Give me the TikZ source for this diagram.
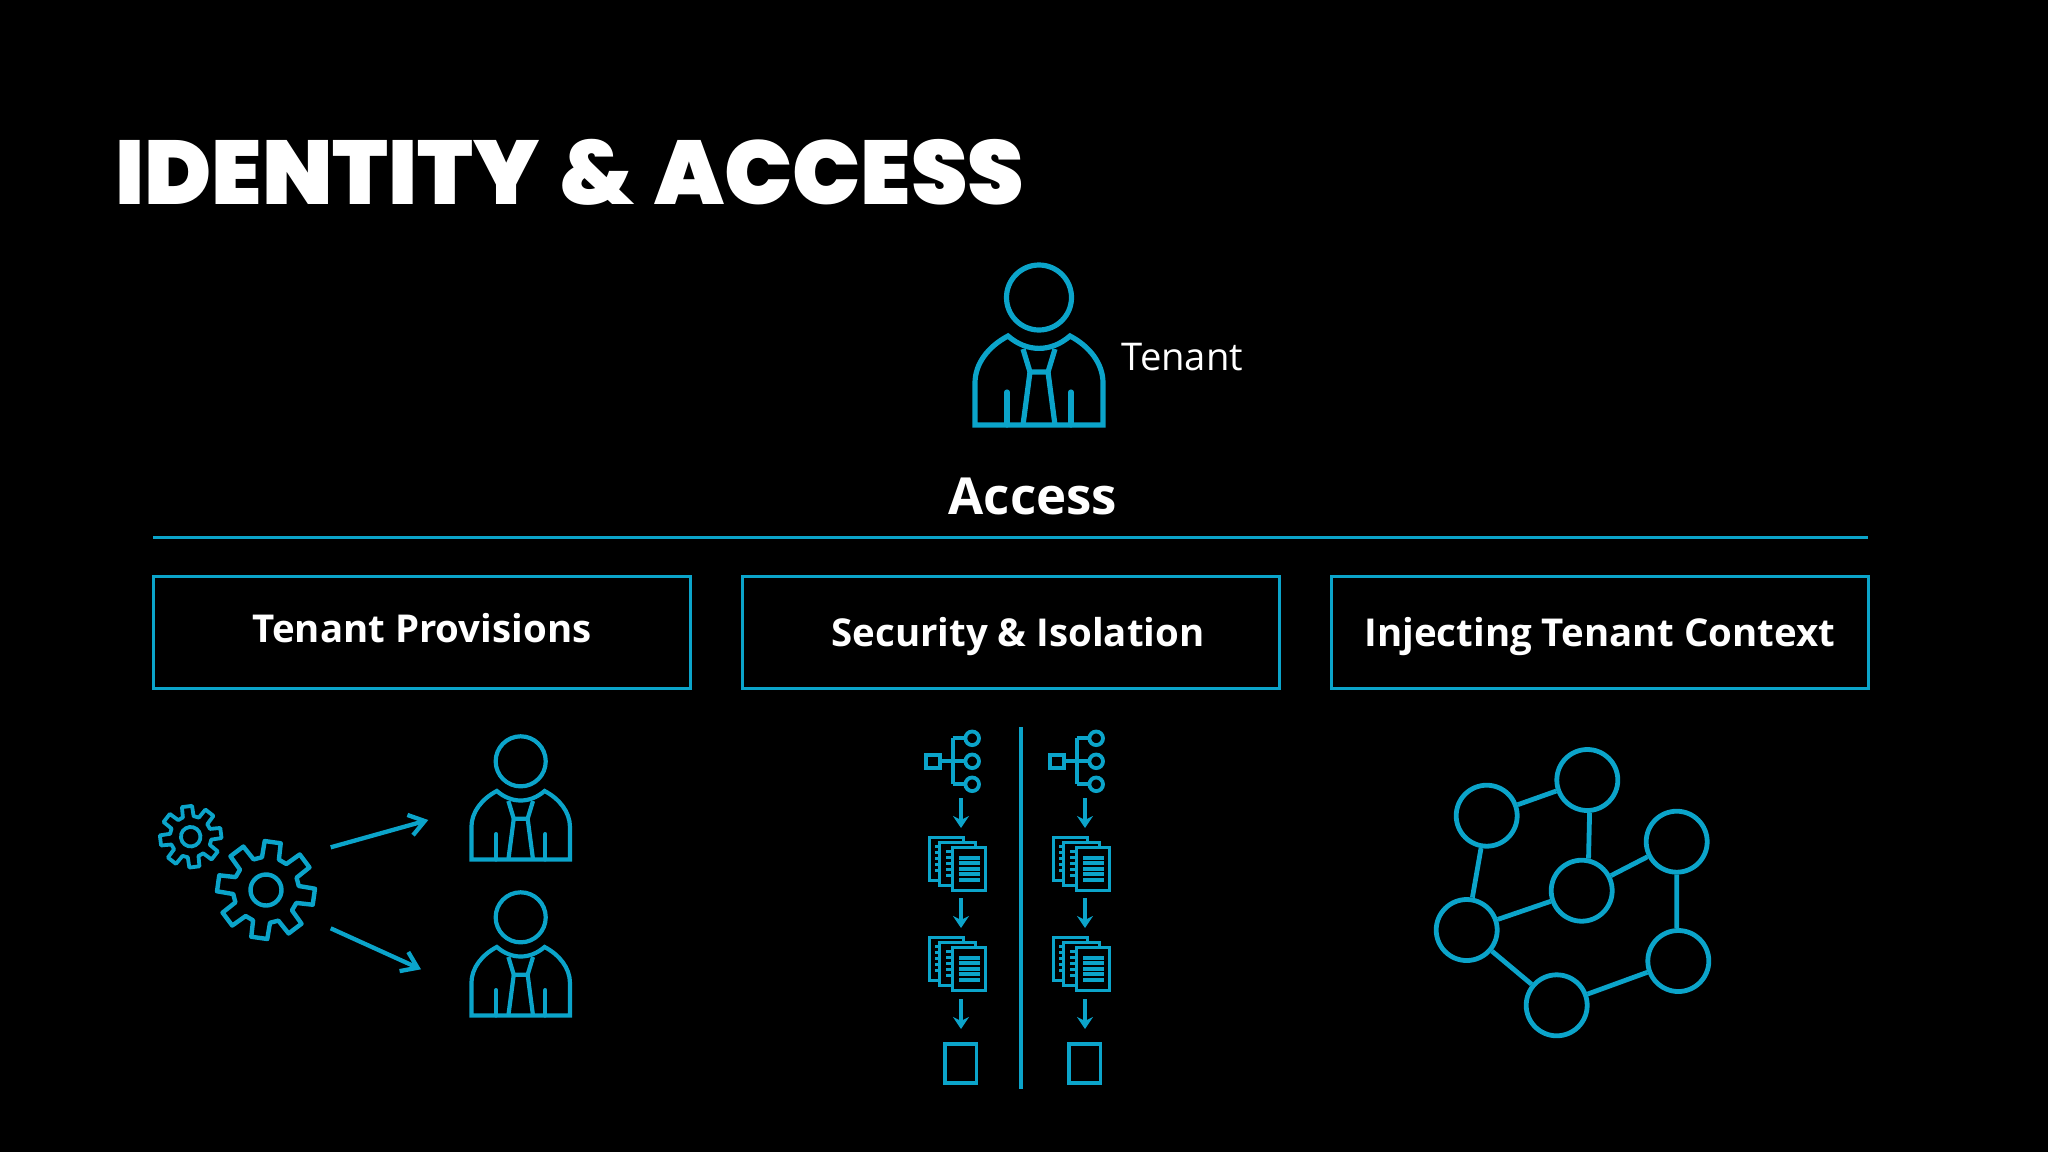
\documentclass[tikz,border=0pt]{standalone}
\usepackage{fontspec}
\usetikzlibrary{arrows.meta,positioning}
\setmainfont{Open Sans}
\newfontfamily\titlefont[WordSpace=1.3]{Poppins Black}
\definecolor{tealine}{HTML}{0BA4CA}

\tikzset{
person/.pic={
  \draw (0,-127.5) circle (32.5);
  \draw (-64,0) -- (-64,-42) .. controls (-64,-62) and (-50,-79) .. (-31,-89)
    .. controls (-12,-72.5) and (12,-72.5) .. (31,-89)
    .. controls (50,-79) and (64,-62) .. (64,-42) -- (64,0) -- cycle;
  \draw (-16,-76) -- (-9,-53) -- (9,-53) -- (16,-76);
  \draw (-9,-53) -- (-16,0) (9,-53) -- (16,0);
  \draw[line cap=round] (-32,-33) -- (-32,0) (32,-33) -- (32,0);
},
cog/.pic={
  \draw[line join=round] (-15:33)
    \foreach \a in {0,45,...,315} { -- (\a-15:33) -- (\a-9.5:49) -- (\a+9.5:49) -- (\a+15:33) } -- cycle;
  \draw (0,0) circle (15.5);
},
tree/.pic={
  \draw (-6.5,-6.5) rectangle (7,7);
  \draw (7,0) -- (32,0) (20,-23) -- (20,23) (20,-23) -- (32,-23) (20,23) -- (32,23);
  \foreach \y in {-23,0,23} \draw (39.5,\y) circle (6.8);
},
docs/.pic={
  \draw[fill=black] (0,0) rectangle (34,43);
  \foreach \y in {9,15,21,27,33} \draw (6,\y) -- (10,\y);
  \draw[fill=black] (10,5) rectangle (46,48);
  \foreach \y in {14,20,26,32,38} \draw (17,\y) -- (23,\y);
  \draw[fill=black] (23.5,10) rectangle (56.5,53);
  \foreach \y in {20.5,26,31.5,37,42.5} \draw[line width=4pt] (30,\y) -- (51,\y);
},
}

\begin{document}
\begin{tikzpicture}[x=1pt,y=-1pt,line width=3.2pt,draw=tealine,
labelbox/.style={draw=tealine,line width=3pt,rectangle},
boxtext/.style={anchor=base,text=white,font=\fontsize{38.4}{46}\selectfont\bfseries},
hub/.style={circle,draw=tealine,line width=4.8pt,minimum size=61pt,inner sep=0pt},
downarrow/.style={-{Stealth[length=12pt,width=16pt]},line width=3.8pt},
outarrow/.style={-{Straight Barb[length=15pt,width=21pt]},line width=4.3pt}]
\useasboundingbox (0,0) rectangle (2048,1152);
\fill[black] (0,0) rectangle (2048,1152);

\node (title) [anchor=base west,inner sep=0pt,text=white] at (114,204)
  {\titlefont\fontsize{90.5}{100}\selectfont IDENTITY \& ACCESS};

% tenant on top
\pic[line width=5.2pt] at (1039,425) {person};
\node (tenant) [anchor=base west,inner sep=0pt,text=white] at (1120,370)
  {\fontsize{38.2}{46}\selectfont Tenant};
\node (access) [boxtext,inner sep=0pt,font=\fontsize{51}{58}\selectfont\bfseries] at (1033,514) {Access};
\coordinate (ruleL) at (153,537);
\coordinate (ruleR) at (1868,537);
\draw[line width=3pt] (ruleL) -- (ruleR);

% the three boxes
\draw[labelbox] (153,576) rectangle (690.5,688);
\draw[labelbox] (742,576) rectangle (1279.5,688);
\draw[labelbox] (1331.5,576) rectangle (1868.5,688);
\node (prov) [boxtext,inner sep=0pt] at (422,642) {Tenant Provisions};
\node (secu) [boxtext,inner sep=0pt] at (1018,646) {Security \& Isolation};
\node (inject) [boxtext,inner sep=0pt] at (1600,646) {Injecting Tenant Context};

% left column
\pic[rotate=7,scale=.63,line width=3.8pt] at (190.7,836.7) {cog};
\pic[rotate=-8,line width=4.4pt] at (266,890) {cog};
\coordinate (out1) at (330.7,847.3);
\coordinate (in1) at (428.3,820);
\coordinate (out2) at (330.7,928.3);
\coordinate (in2) at (421,969.3);
\draw[outarrow] (out1) -- (in1);
\draw[outarrow] (out2) -- (in2);
\pic[scale=.77,line width=4.2pt] at (520.7,859.5) {person};
\pic[scale=.77,line width=4.2pt] at (520.7,1015.5) {person};

% middle column
\coordinate (divT) at (1021,727);
\coordinate (divB) at (1021,1089);
\draw[line width=4pt] (divT) -- (divB);
\foreach \dx/\nm in {0/a,124/b} {
  \pic[line width=3.8pt] at (932.7+\dx,761.3) {tree};
  \pic[line width=3.3pt] at (929.3+\dx,837.3) {docs};
  \pic[line width=3.3pt] at (929.3+\dx,937.3) {docs};
  \draw[line width=3.8pt] (945.2+\dx,1043.6) rectangle (976.4+\dx,1083);
  \coordinate (\nm1) at (961+\dx,798);
  \coordinate (\nm2) at (961+\dx,828);
  \coordinate (\nm3) at (961+\dx,898);
  \coordinate (\nm4) at (961+\dx,928);
  \coordinate (\nm5) at (961+\dx,999);
  \coordinate (\nm6) at (961+\dx,1029);
  \draw[downarrow] (\nm1) -- (\nm2);
  \draw[downarrow] (\nm3) -- (\nm4);
  \draw[downarrow] (\nm5) -- (\nm6);
}

% right column
\node (n1) [hub] at (1486.7,815.7) {};
\node (n2) [hub] at (1587.3,780) {};
\node (n3) [hub] at (1676.7,841.7) {};
\node (n4) [hub] at (1581.7,890.7) {};
\node (n5) [hub] at (1466.7,930) {};
\node (n6) [hub] at (1556.7,1005.3) {};
\node (n7) [hub] at (1678.3,961) {};
\draw[line width=4.8pt] (n1) -- (n2) (n1) -- (n5) (n2.-86) -- (n4.78) (n3) -- (n4)
  (n3.south) -- (n3.south |- n7.north) (n4) -- (n5) (n5) -- (n6) (n6) -- (n7);
\end{tikzpicture}
\end{document}
